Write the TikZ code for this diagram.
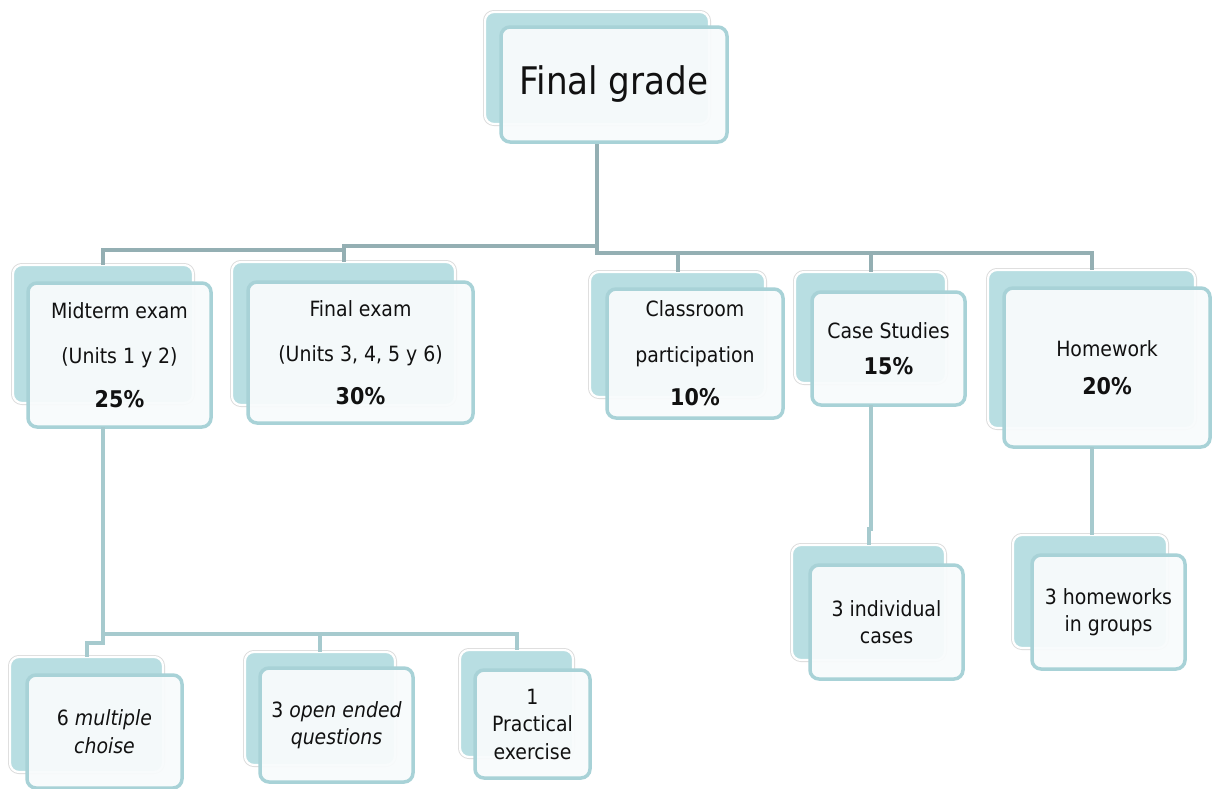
\documentclass[tikz,border=0pt]{standalone}
\usepackage{fontspec}
\setmainfont{DejaVu Sans Condensed}
\definecolor{backfill}{RGB}{184,222,226}
\definecolor{frontline}{RGB}{168,210,215}
\definecolor{frontfill}{RGB}{248,251,252}
\definecolor{topline}{RGB}{148,175,179}
\definecolor{subline}{RGB}{166,202,206}
\definecolor{ink}{RGB}{17,17,17}
\newcommand{\pct}[1]{{\fontsize{23}{27}\selectfont\bfseries #1}}
\begin{document}
\begin{tikzpicture}[x=1pt,y=-1pt,
  backbox/.style={draw=white, line width=2.2pt, fill=backfill, rounded corners=9pt,
    anchor=north west, inner sep=0pt, outer sep=0pt,
    preaction={draw=black!14, line width=4pt}},
  frontbox/.style={draw=frontline, line width=3.5pt, fill=frontfill, fill opacity=0.94,
    text opacity=1, text=ink, rounded corners=9pt, anchor=north west, inner sep=0pt,
    outer sep=0pt, align=center, font=\fontsize{21}{27.5}\selectfont},
  toplink/.style={draw=topline, line width=4pt},
  sublink/.style={draw=subline, line width=4pt}]
\useasboundingbox[fill=white] (0,0) rectangle (1212,788);

% back plates
\node[backbox, minimum width=224pt, minimum height=112pt] (fgB) at (485,12) {};
\node[backbox, minimum width=180pt, minimum height=138pt] (midB) at (13,265) {};
\node[backbox, minimum width=223pt, minimum height=143pt] (feB) at (232,262) {};
\node[backbox, minimum width=175pt, minimum height=125pt] (cpB) at (590,272) {};
\node[backbox, minimum width=151pt, minimum height=111pt] (csB) at (795,272) {};
\node[backbox, minimum width=207pt, minimum height=158pt] (hwB) at (988,270) {};
\node[backbox, minimum width=153pt, minimum height=115pt] (icB) at (792,545) {};
\node[backbox, minimum width=154pt, minimum height=113pt] (hgB) at (1013,535) {};
\node[backbox, minimum width=153pt, minimum height=115pt] (mcB) at (10,657) {};
\node[backbox, minimum width=150pt, minimum height=113pt] (oeB) at (245,652) {};
\node[backbox, minimum width=113pt, minimum height=107pt] (peB) at (460,650) {};

% upper connectors
\draw[toplink] (fgB.south) ++(0,18) coordinate (fgc) -- ++(0,104) coordinate (j1) -| (feB.north);
\draw[toplink] (j1 -| feB.north) -- ++(0,4) -| (midB.north);
\draw[toplink] (j1) -- ++(0,7) coordinate (j2) -| (cpB.north);
\draw[toplink] (j2) -| (csB.north);
\draw[toplink] (j2) -| (hwB.north);

% front plates with text
\node[frontbox, minimum width=226pt, minimum height=115pt,
  font=\fontsize{38}{44}\selectfont] (fg) at (501,27) {Final grade};
\node[frontbox, minimum width=183pt, minimum height=144pt] (mid) at (28,283)
  {Midterm exam\\[18pt](Units 1 y 2)\\[16pt]\pct{25\%}};
\node[frontbox, minimum width=225pt, minimum height=141pt] (fe) at (248,282)
  {Final exam\\[18pt](Units 3, 4, 5 y 6)\\[15pt]\pct{30\%}};
\node[frontbox, minimum width=176pt, minimum height=129pt] (cp) at (607,289)
  {Classroom\\[18pt]participation\\[16pt]\pct{10\%}};
\node[frontbox, minimum width=153pt, minimum height=113pt] (cs) at (812,292)
  {Case Studies\\[9pt]\pct{15\%}};
\node[frontbox, minimum width=206pt, minimum height=159pt] (hw) at (1004,288)
  {Homework\\[10pt]\pct{20\%}};
\node[frontbox, minimum width=153pt, minimum height=114pt] (ic) at (810,565)
  {3 individual\\cases};
\node[frontbox, minimum width=153pt, minimum height=114pt] (hg) at (1032,555)
  {3 homeworks\\in groups};
\node[frontbox, minimum width=155pt, minimum height=113pt] (mc) at (27,675)
  {6 \textit{multiple}\\\textit{choise}};
\node[frontbox, minimum width=153pt, minimum height=114pt] (oe) at (260,668)
  {3 \textit{open ended}\\\textit{questions}};
\node[frontbox, minimum width=115pt, minimum height=108pt] (pe) at (475,670)
  {1\\Practical\\exercise};

% lower connectors
\draw[sublink] (midB.south |- mid.south) -- ++(0,207) coordinate (k1) -| (oeB.north);
\draw[sublink] (k1) -| (peB.north);
\draw[sublink] (k1) -- ++(0,9) -| (mcB.north);
\draw[sublink] (csB.south |- cs.south) -- ++(0,124) -| (icB.north);
\draw[sublink] (hwB.south |- hw.south) -- (hwB.south |- hgB.north);
\end{tikzpicture}
\end{document}
